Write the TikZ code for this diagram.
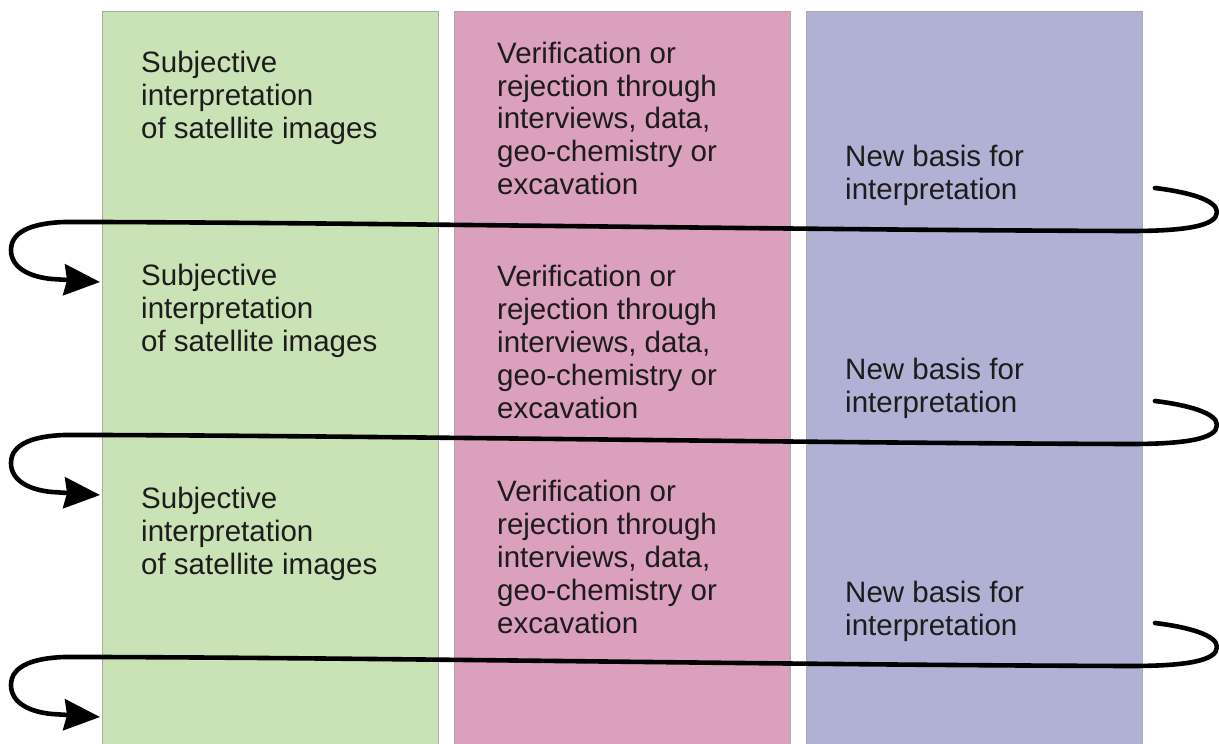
\documentclass[tikz,border=0pt]{standalone}
\usepackage{fontspec}
\setmainfont{Liberation Sans}
\usetikzlibrary{arrows.meta}
\definecolor{colG}{RGB}{201,227,182}
\definecolor{colP}{RGB}{218,160,190}
\definecolor{colB}{RGB}{176,177,212}
\definecolor{edgeC}{RGB}{170,170,170}
\definecolor{inkC}{RGB}{30,27,28}
\newcommand{\mylines}[1]{\begin{tabular}[t]{@{}l@{}}#1\end{tabular}}
\begin{document}
\begin{tikzpicture}[x=1pt,y=-1pt,
  col/.style={draw=edgeC, line width=0.8pt, minimum width=336pt, minimum height=745pt, anchor=north west, inner sep=0pt},
  lbl/.style={anchor=base west, inner sep=0pt, text=inkC, font=\fontsize{29.5}{33}\selectfont},
  conn/.style={line width=4.6pt, draw=black, line join=round, line cap=round, -{Stealth[length=36pt,width=31pt,inset=3pt]}}]
\useasboundingbox (0,0) rectangle (1219,744);
% columns
\node[col, fill=colG] (cg) at (102,11) {};
\node[col, fill=colP] (cp) at (454,11) {};
\node[col, fill=colB] (cb) at (806,11) {};
% labels row 1
\node[lbl] (g1) at (141,72) {\mylines{Subjective\\interpretation\\of satellite images}};
\node[lbl] (p1) at (497,63) {\mylines{Verification or\\rejection through\\interviews, data,\\geo-chemistry or\\excavation}};
\node[lbl] (b1) at (845,166) {\mylines{New basis for\\interpretation}};
% labels row 2
\node[lbl] (g2) at (141,285) {\mylines{Subjective\\interpretation\\of satellite images}};
\node[lbl] (p2) at (497,286) {\mylines{Verification or\\rejection through\\interviews, data,\\geo-chemistry or\\excavation}};
\node[lbl] (b2) at (845,379) {\mylines{New basis for\\interpretation}};
% labels row 3
\node[lbl] (g3) at (141,508) {\mylines{Subjective\\interpretation\\of satellite images}};
\node[lbl] (p3) at (497,501) {\mylines{Verification or\\rejection through\\interviews, data,\\geo-chemistry or\\excavation}};
\node[lbl] (b3) at (845,602) {\mylines{New basis for\\interpretation}};
% connectors
\foreach \d/\n in {0/1, 213/2, 435/3}{
  \coordinate (s\n) at (1155,188+\d);
  \coordinate (t\n) at (100,282+\d);
  \draw[conn] (s\n) .. controls (1188,192+\d) and (1217,200+\d) .. (1217,212+\d)
    .. controls (1217,226+\d) and (1185,231+\d) .. (1130,231+\d)
    .. controls (800,230+\d) and (400,223+\d) .. (100,222+\d)
    -- (64,222+\d) .. controls (38,223+\d) and (11,229+\d) .. (11,250+\d)
    .. controls (11,268+\d) and (30,277+\d) .. (52,279+\d) -- (t\n);
}
\end{tikzpicture}
\end{document}
